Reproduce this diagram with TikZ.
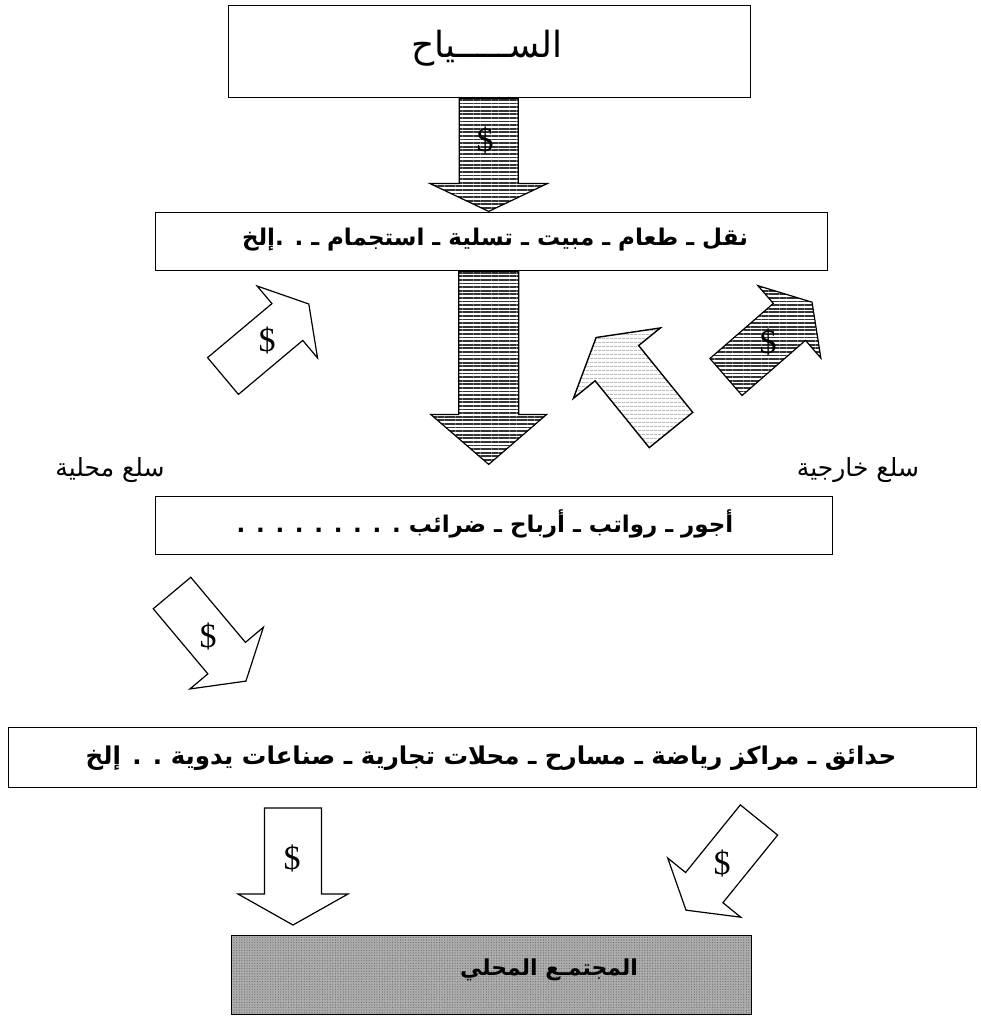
\documentclass[tikz,border=0pt]{standalone}
\usepackage{fontspec}
\usetikzlibrary{patterns.meta,calc}
\TeXXeTstate=1
\newfontfamily\arabicfont[Script=Arabic]{DejaVu Sans}
\newfontfamily\dollarfont{Liberation Serif}
\newcommand\AR[1]{{\arabicfont\beginR #1\endR}}
% block arrow: style, tail point, angle, shaft length, shaft width, head width, head length
\newcommand\barrow[7]{%
  \draw[#1,shift={(#2)},rotate=#3]
    (0,-#5/2) -- (#4,-#5/2) -- (#4,-#6/2) -- (#4+#7,0) -- (#4,#6/2) -- (#4,#5/2) -- (0,#5/2) -- cycle;}
\begin{document}
\begin{tikzpicture}[x=1pt,y=-1pt,
  box/.style={draw=black,line width=1.4pt,fill=white,inner sep=0pt,anchor=north west},
  graybox/.style={draw=black,line width=1.4pt,inner sep=0pt,anchor=north west,
     preaction={fill=black!32},pattern={Dots[distance=2.6pt,radius=0.6pt]},pattern color=black!58},
  hatch/.style={draw=black,line width=1.2pt,pattern={Lines[angle=0,distance=3.6pt,line width=1.8pt]},pattern color=black!80},
  plain/.style={draw=black,line width=1.2pt,fill=white},
  light/.style={draw=black,line width=1.4pt,preaction={fill=white},pattern={Lines[angle=0,distance=4pt,line width=0.5pt]},pattern color=black!40},
  dollar/.style={font=\dollarfont\fontsize{34}{34}\selectfont,inner sep=0pt},
  btext/.style={font=\fontsize{23}{26}\selectfont\bfseries,inner sep=0pt},
  ltext/.style={font=\fontsize{25}{28}\selectfont,inner sep=0pt}]
\useasboundingbox (0,0) rectangle (981,1018);
\fill[white] (0,0) rectangle (981,1018);
% boxes
\node[box,minimum width=522pt,minimum height=92pt] (b1) at (228,5) {};
\node[font=\fontsize{36}{38}\selectfont,inner sep=0pt] (t1) at (487,48) {\AR{الســـــياح}};
\node[box,minimum width=672pt,minimum height=58pt] (b2) at (155,212) {};
\node[btext] (t2) at (495,240) {\AR{نقل ـ طعام ـ مبيت ـ تسلية ـ استجمام ـ . .إلخ}};
\node[box,minimum width=677pt,minimum height=58pt] (b3) at (155,496) {};
\node[btext] (t3) at (485,524) {\AR{أجور ـ رواتب ـ أرباح ـ ضرائب . . . . . . . . .}};
\node[box,minimum width=968pt,minimum height=60pt] (b4) at (8,727) {};
\node[btext,font=\fontsize{24.5}{27}\selectfont\bfseries] (t4) at (491,758) {\AR{حدائق ـ مراكز رياضة ـ مسارح ـ محلات تجارية ـ صناعات يدوية . . إلخ}};
\node[graybox,minimum width=520pt,minimum height=79pt] (b5) at (231,935) {};
\node[font=\fontsize{22}{26}\selectfont\bfseries,inner sep=0pt] (t5) at (549,970) {\AR{المجتمـع المحلي}};
% side labels
\node[ltext] (lblL) at (110,470) {\AR{سلع محلية}};
\node[ltext] (lblR) at (858,470) {\AR{سلع خارجية}};
% arrows
\coordinate (a1) at ($(b1.south)+(-1,0)$);
\barrow{hatch}{a1}{-90}{85}{59}{118}{28}
\node[dollar] (d1) at (485,140) {\$};
\coordinate (a2) at ($(b2.south)+(-3,0)$);
\barrow{hatch}{a2}{-90}{143}{60}{116}{50}
\coordinate (aA) at (223,376);
\barrow{plain}{aA}{40}{84}{48}{94}{28}
\node[dollar] (dA) at (267,340) {\$};
\coordinate (aB) at (671,430);
\barrow{light}{aB}{129}{86}{56}{112}{33}
\coordinate (aC) at (726,377);
\barrow{hatch}{aC}{41}{84}{49}{96}{30}
\node[dollar] (dC) at (768,342) {\$};
\coordinate (aD) at (172,593);
\barrow{plain}{aD}{-50}{85}{49}{96}{30}
\node[dollar] (dD) at (208,636) {\$};
\coordinate (aE) at (293,808);
\barrow{plain}{aE}{-90}{86}{57}{110}{31}
\node[dollar] (dE) at (292,858) {\$};
\coordinate (aF) at (759,820);
\barrow{plain}{aF}{-129}{87}{48}{94}{29}
\node[dollar] (dF) at (722,863) {\$};
\end{tikzpicture}
\end{document}
